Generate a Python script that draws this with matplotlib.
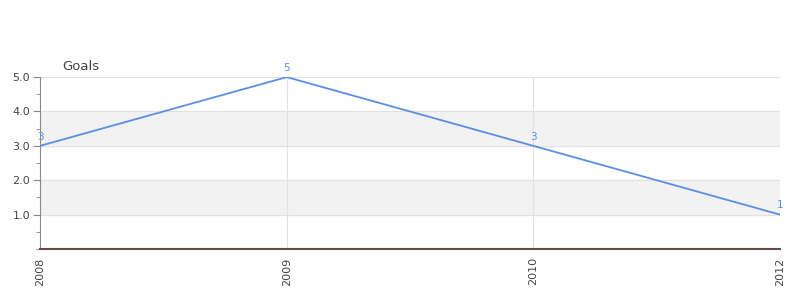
import matplotlib.pyplot as plt
from matplotlib.ticker import MultipleLocator

years = ['2008', '2009', '2010', '2012']
goals = [3, 5, 3, 1]

LINE = '#5b8ee6'
TXT = '#444444'

fig = plt.figure(figsize=(8, 3), dpi=100)
ax = fig.add_axes([0.05, 0.17, 0.925, 0.573])

x = list(range(len(years)))
ax.set_xlim(0, len(years) - 1)
ax.set_ylim(0, 5)

# alternating bands
for lo in (1, 3):
    ax.axhspan(lo, lo + 1, color='#f2f2f2', zorder=0)
for y in range(1, 6):
    ax.axhline(y, color='#e2e2e2', lw=0.8, zorder=1)
for xi in x[1:]:
    ax.axvline(xi, color='#e2e2e2', lw=0.8, zorder=1)

ax.plot(x, goals, color=LINE, lw=1.3, zorder=3)
for xi, v in zip(x, goals):
    ax.text(xi, v + 0.12, str(v), color=LINE, fontsize=7.5,
            ha='center', va='bottom', zorder=4)

ax.axhline(0, color='#d00000', lw=1, zorder=4)

ax.set_xticks(x)
ax.set_xticklabels(years, rotation=90, fontsize=8, color=TXT)
ax.set_yticks([1, 2, 3, 4, 5])
ax.set_yticklabels(['1.0', '2.0', '3.0', '4.0', '5.0'], fontsize=8, color=TXT)
ax.yaxis.set_minor_locator(MultipleLocator(0.5))
ax.tick_params(axis='y', which='major', length=5, color='#888888', pad=2)
ax.tick_params(axis='y', which='minor', length=3, color='#888888')
ax.tick_params(axis='x', length=0, pad=6)

for s in ('top', 'right'):
    ax.spines[s].set_visible(False)
ax.spines['left'].set_color('#888888')
ax.spines['bottom'].set_color('#555555')
ax.spines['bottom'].set_linewidth(1.5)

fig.text(0.0775, 0.777, 'Goals', fontsize=9.5, color=TXT, ha='left', va='center')

fig.savefig('out.png', dpi=100)
